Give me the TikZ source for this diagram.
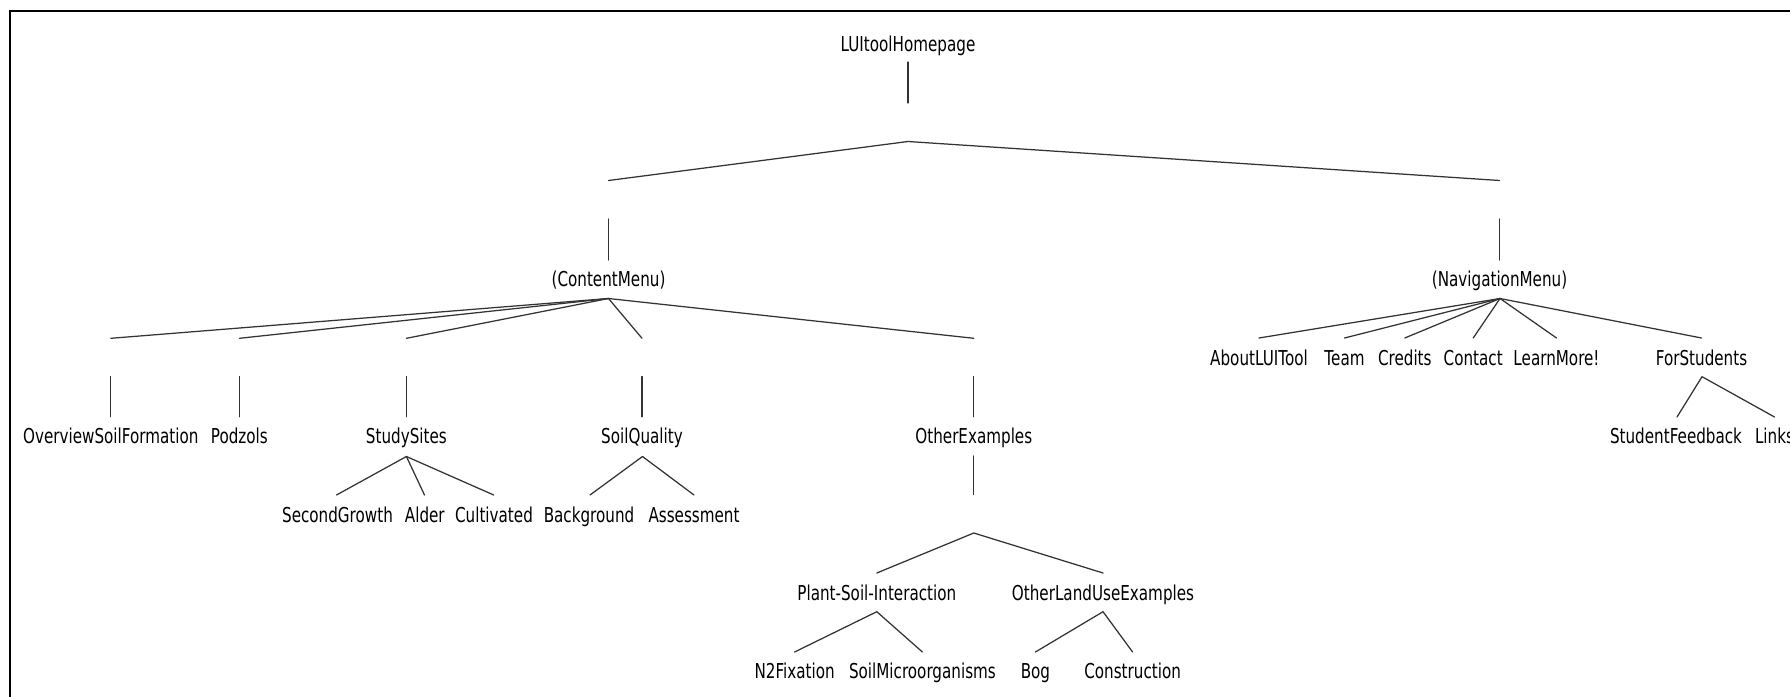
\documentclass[tikz,border=0pt]{standalone}
\usepackage{fontspec}
\newfontfamily\treefont[FakeStretch=0.74]{DejaVu Sans}
\begin{document}
\begin{tikzpicture}[x=1pt,y=-1pt,
  lbl/.style={font=\treefont\fontsize{20.5}{24}\selectfont, anchor=base, inner sep=0pt, text=black},
  edge/.style={line width=1.25pt, draw=black!80, line cap=round},
  frame/.style={line width=2.4pt, draw=black}]
\useasboundingbox (0,0) rectangle (1790,696);
\clip (0,0) rectangle (1790,696);
\fill[white] (0,0) rectangle (1790,696);
% frame (cropped on right and bottom)
\coordinate (fbl) at (10.2,710);
\coordinate (ftl) at (10.2,11.2);
\coordinate (ftr) at (1810,11.2);
\draw[frame] (fbl) -- (ftl) -- (ftr);

% ---------- labels ----------
\node[lbl] (root) at (908,51.7) {LUItoolHomepage};
\node[lbl] (cm) at (608.5,286) {(ContentMenu)};
\node[lbl] (nm) at (1499.5,286) {(NavigationMenu)};

\node[lbl] (osf) at (110.8,443.3) {OverviewSoilFormation};
\node[lbl] (pod) at (239.4,443.3) {Podzols};
\node[lbl] (ss)  at (406.4,443.3) {StudySites};
\node[lbl] (sq)  at (642,443.3) {SoilQuality};
\node[lbl] (oe)  at (973.8,443.3) {OtherExamples};

\node[lbl] (sg)  at (337.5,522) {SecondGrowth};
\node[lbl] (ald) at (424.8,522) {Alder};
\node[lbl] (cul) at (494,522) {Cultivated};
\node[lbl] (bg)  at (589,522) {Background};
\node[lbl] (as)  at (694,522) {Assessment};

\node[lbl] (psi) at (876.8,600.5) {Plant-Soil-Interaction};
\node[lbl] (olu) at (1103,600.5) {OtherLandUseExamples};
\node[lbl] (n2f) at (794.6,678.5) {N2Fixation};
\node[lbl] (smo) at (922.4,678.5) {SoilMicroorganisms};
\node[lbl] (bog) at (1035.4,678.5) {Bog};
\node[lbl] (con) at (1132.6,678.5) {Construction};

\node[lbl] (abt) at (1259,365) {AboutLUITool};
\node[lbl] (tea) at (1344.5,365) {Team};
\node[lbl] (cre) at (1404.8,365) {Credits};
\node[lbl] (cot) at (1473.2,365) {Contact};
\node[lbl] (lrn) at (1556.5,365) {LearnMore!};
\node[lbl] (fst) at (1701.5,365) {ForStudents};
\node[lbl] (sfb) at (1676,443.5) {StudentFeedback};
\node[lbl] (lnk) at (1774.5,443.5) {Links};

% ---------- connector points ----------
\coordinate (r1) at (908,62);
\coordinate (r2) at (908,103);
\coordinate (a0) at (908,141.5);
\coordinate (l0) at (608.5,180.5);
\coordinate (q0) at (1499.5,180.5);
\coordinate (cm1) at (608.5,219);
\coordinate (cm2) at (608.5,260);
\coordinate (nm1) at (1499.5,219);
\coordinate (nm2) at (1499.5,260);

\coordinate (cma) at (608.5,298.5);
\coordinate (ce1) at (110.8,338.3);
\coordinate (ce2) at (239.4,338.3);
\coordinate (ce3) at (406.4,338.3);
\coordinate (ce4) at (642,338.3);
\coordinate (ce5) at (973.8,338.3);
\coordinate (cv1) at (110.8,376.5);
\coordinate (cv2) at (239.4,376.5);
\coordinate (cv3) at (406.4,376.5);
\coordinate (cv4) at (642,376.5);
\coordinate (cv5) at (973.8,376.5);
\coordinate (cw1) at (110.8,416.7);
\coordinate (cw2) at (239.4,416.7);
\coordinate (cw3) at (406.4,416.7);
\coordinate (cw4) at (642,416.7);
\coordinate (cw5) at (973.8,416.7);

\coordinate (ssa) at (406.4,456.5);
\coordinate (sse1) at (336.5,495);
\coordinate (sse2) at (424.5,495);
\coordinate (sse3) at (493.7,495);
\coordinate (sqa) at (642.5,456.5);
\coordinate (sqe1) at (590,495);
\coordinate (sqe2) at (694,495);

\coordinate (oe1) at (973.8,456);
\coordinate (oe2) at (973.8,494.5);
\coordinate (oea) at (973.8,533);
\coordinate (oee1) at (876.8,573);
\coordinate (oee2) at (1103,573);
\coordinate (psia) at (876.8,611.7);
\coordinate (psie1) at (794.6,652);
\coordinate (psie2) at (922.4,652);
\coordinate (olua) at (1103,611.7);
\coordinate (olue1) at (1035.4,652);
\coordinate (olue2) at (1132.6,652);

\coordinate (nma) at (1500,298.5);
\coordinate (ne1) at (1259,338);
\coordinate (ne2) at (1344.5,338);
\coordinate (ne3) at (1404.8,338);
\coordinate (ne4) at (1473.2,338);
\coordinate (ne5) at (1556.5,338);
\coordinate (ne6) at (1701.5,338);
\coordinate (fsa) at (1702,376.7);
\coordinate (fse1) at (1677,417);
\coordinate (fse2) at (1774.5,417);

% ---------- connectors ----------
\draw[edge] (r1) -- (r2);
\draw[edge] (l0) -- (a0) -- (q0);
\draw[edge] (cm1) -- (cm2);
\draw[edge] (nm1) -- (nm2);

\foreach \e in {ce1,ce2,ce3,ce4,ce5} \draw[edge] (cma) -- (\e);
\foreach \i in {1,...,5} \draw[edge] (cv\i) -- (cw\i);

\foreach \e in {sse1,sse2,sse3} \draw[edge] (ssa) -- (\e);
\foreach \e in {sqe1,sqe2} \draw[edge] (sqa) -- (\e);

\draw[edge] (oe1) -- (oe2);
\draw[edge] (oee1) -- (oea) -- (oee2);
\draw[edge] (psie1) -- (psia) -- (psie2);
\draw[edge] (olue1) -- (olua) -- (olue2);

\foreach \e in {ne1,ne2,ne3,ne4,ne5,ne6} \draw[edge] (nma) -- (\e);
\draw[edge] (fse1) -- (fsa) -- (fse2);
\end{tikzpicture}
\end{document}
